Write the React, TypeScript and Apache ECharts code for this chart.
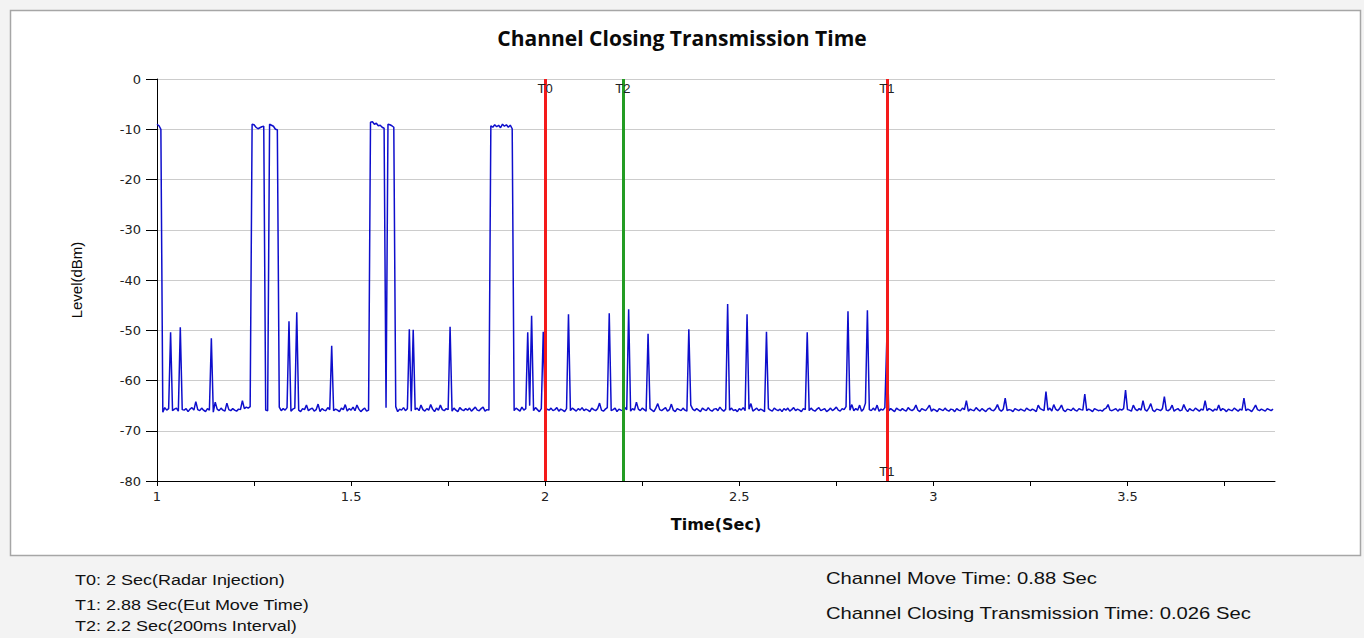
import React, { useEffect, useRef } from "react";
import * as echarts from "echarts";

// ---- data ----
const chartTitle = "Channel Closing Transmission Time";
const xAxisName = "Time(Sec)";
const yAxisName = "Level(dBm)";

// sampled trace: first sample time and sample spacing (seconds)
const traceStartSec = 1.0;
const traceStepSec = 0.005;

// measured level (dBm) of every sample, 20 samples per row (0.1 s per row)
const levelRows: number[][] = [
  [-9.0, -9.3, -10.0, -66.3, -65.4, -65.9, -65.6, -50.4, -66.0, -65.7, -65.5, -66.1, -49.4, -65.8, -65.9, -65.6, -66.2, -65.7, -65.4, -65.9],
  [-64.2, -65.8, -66.0, -65.5, -65.9, -66.2, -65.6, -65.9, -51.6, -66.3, -64.3, -65.7, -66.0, -65.5, -65.9, -66.1, -64.5, -65.8, -66.0, -65.6],
  [-65.9, -66.1, -65.7, -65.8, -64.0, -65.6, -65.3, -65.5, -65.2, -9.0, -9.1, -9.6, -9.9, -9.7, -9.5, -9.4, -65.9, -66.0, -9.0, -9.2],
  [-9.4, -10.0, -10.1, -65.3, -66.0, -65.6, -65.9, -65.4, -48.2, -66.1, -65.7, -65.5, -46.4, -65.9, -66.2, -65.6, -65.8, -64.9, -66.0, -65.7],
  [-65.5, -66.1, -65.8, -64.7, -66.2, -65.6, -65.9, -66.0, -65.4, -65.8, -53.1, -66.0, -65.7, -65.9, -66.2, -65.5, -65.8, -64.8, -66.1, -65.6],
  [-65.9, -65.3, -66.0, -64.9, -65.7, -66.2, -65.8, -65.5, -66.1, -65.9, -8.6, -8.5, -9.0, -8.8, -9.3, -9.2, -9.6, -9.8, -65.4, -9.0],
  [-9.1, -9.3, -9.6, -65.2, -66.2, -65.7, -65.9, -65.4, -66.0, -65.6, -49.8, -66.1, -49.9, -65.8, -65.5, -66.0, -64.9, -65.8, -66.1, -65.6],
  [-65.9, -64.8, -65.7, -66.2, -65.5, -65.9, -64.9, -65.8, -66.0, -65.6, -65.8, -49.3, -66.1, -65.5, -65.9, -66.2, -65.4, -65.8, -66.0, -65.6],
  [-65.9, -65.5, -66.1, -65.7, -65.3, -65.9, -66.0, -65.6, -65.3, -66.1, -65.8, -65.9, -9.3, -9.6, -9.1, -9.5, -9.2, -9.7, -9.0, -9.4],
  [-9.1, -9.6, -9.2, -9.9, -66.0, -65.5, -65.8, -66.1, -65.3, -65.9, -65.6, -50.4, -65.0, -47.1, -66.0, -65.4, -65.8, -66.2, -65.6, -50.3],
  [-66.1, -65.7, -65.9, -65.5, -66.0, -65.8, -65.4, -66.1, -65.7, -65.9, -66.2, -65.6, -46.8, -66.0, -65.5, -65.8, -66.1, -65.6, -65.9, -65.4],
  [-66.0, -65.7, -65.9, -66.2, -65.5, -65.8, -66.0, -65.6, -64.5, -65.9, -66.1, -65.7, -65.4, -46.6, -66.0, -65.8, -65.5, -66.2, -65.7, -65.9],
  [-66.0, -65.4, -65.8, -45.8, -66.1, -65.6, -65.9, -64.3, -65.7, -66.0, -65.5, -65.8, -66.1, -50.7, -65.6, -65.9, -66.2, -65.5, -64.6, -65.8],
  [-66.0, -65.7, -65.4, -66.1, -65.8, -64.7, -65.9, -66.2, -65.6, -65.8, -66.0, -65.5, -65.9, -66.1, -49.8, -64.9, -65.7, -66.0, -65.6, -65.9],
  [-66.2, -65.5, -65.8, -66.0, -65.4, -65.9, -66.1, -65.7, -65.6, -66.0, -65.3, -65.8, -66.1, -65.7, -44.8, -65.9, -65.5, -66.0, -65.8, -66.2],
  [-65.6, -65.9, -65.4, -66.0, -46.8, -65.7, -64.6, -66.1, -65.8, -65.5, -66.0, -65.7, -65.9, -66.2, -50.3, -65.6, -65.9, -66.1, -65.5, -65.8],
  [-66.0, -65.7, -66.2, -65.6, -65.9, -65.5, -66.1, -65.8, -65.4, -66.0, -65.7, -65.9, -66.2, -65.6, -65.8, -50.4, -66.0, -65.5, -65.9, -66.1],
  [-65.7, -65.4, -66.0, -65.8, -65.6, -66.2, -65.9, -65.5, -66.0, -65.7, -65.3, -65.9, -66.1, -65.6, -65.8, -65.2, -46.2, -65.9, -64.8, -66.0],
  [-65.6, -65.9, -64.9, -66.1, -65.7, -64.5, -46.0, -65.8, -66.0, -65.5, -65.9, -64.9, -66.1, -65.7, -65.9, -65.4, -51.8, -66.0, -65.6, -65.9],
  [-66.2, -65.5, -65.8, -66.0, -65.6, -65.9, -66.1, -65.4, -65.8, -66.0, -65.7, -64.9, -65.9, -66.2, -65.6, -65.8, -66.0, -65.5, -64.9, -66.1],
  [-65.7, -65.9, -66.2, -65.6, -65.8, -66.0, -65.5, -65.9, -66.1, -65.7, -65.8, -66.2, -65.6, -65.9, -66.0, -65.5, -65.8, -64.0, -66.1, -65.7],
  [-65.9, -66.0, -65.4, -65.8, -66.1, -65.6, -65.9, -66.2, -65.7, -65.5, -65.9, -66.0, -65.6, -64.8, -65.8, -66.1, -65.7, -63.5, -66.0, -65.8],
  [-65.9, -66.2, -65.6, -65.8, -66.0, -65.7, -65.9, -66.1, -65.5, -65.8, -66.0, -65.7, -65.9, -66.2, -64.9, -65.6, -65.8, -66.0, -62.2, -65.9],
  [-65.5, -66.1, -64.8, -65.7, -66.0, -65.6, -64.9, -65.9, -66.2, -65.7, -65.8, -66.0, -65.5, -65.9, -66.1, -65.6, -65.8, -65.9, -62.7, -66.0],
  [-65.7, -65.9, -66.2, -65.6, -65.8, -66.0, -65.9, -66.1, -65.7, -65.5, -64.8, -65.9, -66.0, -65.8, -65.6, -66.1, -65.7, -65.9, -65.6, -61.9],
  [-65.8, -65.9, -66.1, -64.9, -65.7, -66.0, -65.6, -65.9, -64.0, -65.8, -66.1, -65.5, -64.6, -65.9, -66.2, -65.7, -65.8, -66.0, -65.6, -63.2],
  [-65.9, -66.0, -65.7, -64.9, -66.1, -65.8, -65.6, -66.0, -65.9, -64.8, -65.7, -66.2, -65.6, -65.9, -66.0, -65.5, -65.8, -66.1, -65.7, -65.9],
  [-64.0, -66.0, -65.6, -65.8, -66.1, -65.7, -65.9, -64.9, -66.0, -65.6, -65.8, -66.2, -65.7, -65.9, -66.0, -65.5, -65.8, -66.1, -65.7, -65.9],
  [-63.5, -66.0, -65.7, -65.9, -66.2, -65.6, -64.9, -65.8, -66.0, -65.7, -65.9, -66.1, -65.6, -65.8, -66.0, -65.7],
];

// event markers
const markerNames = ["T0", "T2", "T1"];
const markerTimes = [2, 2.2, 2.88];

// axes
const xMin = 1;
const xMax = 3.88;
const xLabelValues = [1, 1.5, 2, 2.5, 3, 3.5];
const xTickValues = [1, 1.25, 1.5, 1.75, 2, 2.25, 2.5, 2.75, 3, 3.25, 3.5, 3.75];
const yMin = -80;
const yMax = 0;
const yInterval = 10;

// notes under the chart
const notesLeft = [
  "T0: 2 Sec(Radar Injection)",
  "T1: 2.88 Sec(Eut Move Time)",
  "T2: 2.2 Sec(200ms Interval)",
];
const notesRight = [
  "Channel Move Time: 0.88 Sec",
  "Channel Closing Transmission Time: 0.026 Sec",
];

// ---- styles ----
const markerColors: Record<string, string> = { T0: "#f41a1a", T1: "#f41a1a", T2: "#239c23" };
const notesLeftY = [580, 605, 626];
const notesRightY = [578, 613];

export default function App() {
  const ref = useRef<HTMLDivElement>(null);

  useEffect(() => {
    if (!ref.current) return;
    const chart = echarts.init(ref.current, undefined, { renderer: "svg" });

    const levels = levelRows.flat();
    const traceData = levels.map((v, i) => [
      Number((traceStartSec + i * traceStepSec).toFixed(3)),
      v,
    ]);

    const markLineData = markerNames.map((n, k) => ({
      xAxis: markerTimes[k],
      lineStyle: { color: markerColors[n], width: 3, type: "solid" },
    }));

    const markPointData: any[] = markerNames.map((n, k) => ({
      name: n,
      coord: [markerTimes[k], -1.8],
    }));
    // T1 is also labelled at the bottom of its line
    markPointData.push({ name: "T1", coord: [markerTimes[2], -78.2] });

    const graphics: any[] = [
      {
        type: "rect",
        z: -10,
        silent: true,
        shape: { x: 10.5, y: 10.5, width: 1350, height: 545 },
        style: { fill: "#ffffff", stroke: "#a6a6a6", lineWidth: 1.5 },
      },
    ];
    notesLeft.forEach((t, k) => {
      graphics.push({
        type: "text",
        x: 75,
        y: notesLeftY[k],
        scaleX: 1.2,
        style: {
          text: t,
          fontSize: 15,
          fontFamily: "Liberation Sans",
          fill: "#111",
          align: "left",
          verticalAlign: "middle",
        },
      });
    });
    notesRight.forEach((t, k) => {
      graphics.push({
        type: "text",
        x: 826,
        y: notesRightY[k],
        scaleX: 1.19,
        style: {
          text: t,
          fontSize: 17,
          fontFamily: "Liberation Sans",
          fill: "#111",
          align: "left",
          verticalAlign: "middle",
        },
      });
    });

    chart.setOption({
      animation: false,
      backgroundColor: "#f3f3f3",
      title: {
        text: chartTitle,
        left: "center",
        top: 27,
        padding: 0,
        textStyle: {
          fontFamily: "Open Sans",
          fontWeight: "bold",
          fontSize: 21,
          color: "#0a0a0a",
        },
      },
      grid: { left: 157, right: 89, top: 79, bottom: 157 },
      xAxis: {
        type: "value",
        min: xMin,
        max: xMax,
        interval: 0.5,
        name: xAxisName,
        nameLocation: "middle",
        nameGap: 35,
        nameTextStyle: {
          fontFamily: "DejaVu Sans",
          fontWeight: "bold",
          fontSize: 16,
          color: "#0a0a0a",
        },
        axisLine: { show: true, onZero: false, lineStyle: { color: "#000", width: 1 } },
        axisTick: {
          show: true,
          length: 5,
          customValues: xTickValues,
          lineStyle: { color: "#000" },
        },
        axisLabel: {
          customValues: xLabelValues,
          color: "#222",
          fontSize: 13,
          fontFamily: "DejaVu Sans",
          margin: 9,
          formatter: (v: number) => (xLabelValues.includes(v) ? String(v) : ""),
        },
        splitLine: { show: false },
      },
      yAxis: {
        type: "value",
        min: yMin,
        max: yMax,
        interval: yInterval,
        name: yAxisName,
        nameLocation: "middle",
        nameGap: 73,
        nameTextStyle: {
          fontFamily: "Liberation Sans",
          fontSize: 15,
          color: "#0a0a0a",
        },
        axisLine: { show: true, lineStyle: { color: "#000", width: 1 } },
        axisTick: { show: true, length: 11, lineStyle: { color: "#000" } },
        axisLabel: {
          color: "#222",
          fontSize: 13,
          fontFamily: "DejaVu Sans",
          margin: 16,
        },
        splitLine: { show: true, lineStyle: { color: "#cccccc", width: 1 } },
      },
      graphic: graphics,
      series: [
        {
          type: "line",
          data: traceData,
          showSymbol: false,
          symbol: "none",
          lineStyle: { color: "#0e0ecc", width: 1.5 },
          itemStyle: { color: "#0e0ecc" },
          z: 2,
          markLine: {
            silent: true,
            symbol: ["none", "none"],
            label: { show: false },
            lineStyle: { type: "solid", width: 3 },
            data: markLineData,
          },
          markPoint: {
            silent: true,
            symbol: "circle",
            symbolSize: 1,
            itemStyle: { color: "rgba(0,0,0,0)" },
            label: {
              show: true,
              position: "inside",
              formatter: "{b}",
              color: "#222",
              fontSize: 13,
              fontFamily: "Liberation Sans",
            },
            data: markPointData,
          },
        },
      ],
    });

    return () => chart.dispose();
  }, []);

  return (
    <div
      ref={ref}
      style={{ position: "absolute", left: 0, top: 0, width: 1364, height: 638 }}
    />
  );
}
